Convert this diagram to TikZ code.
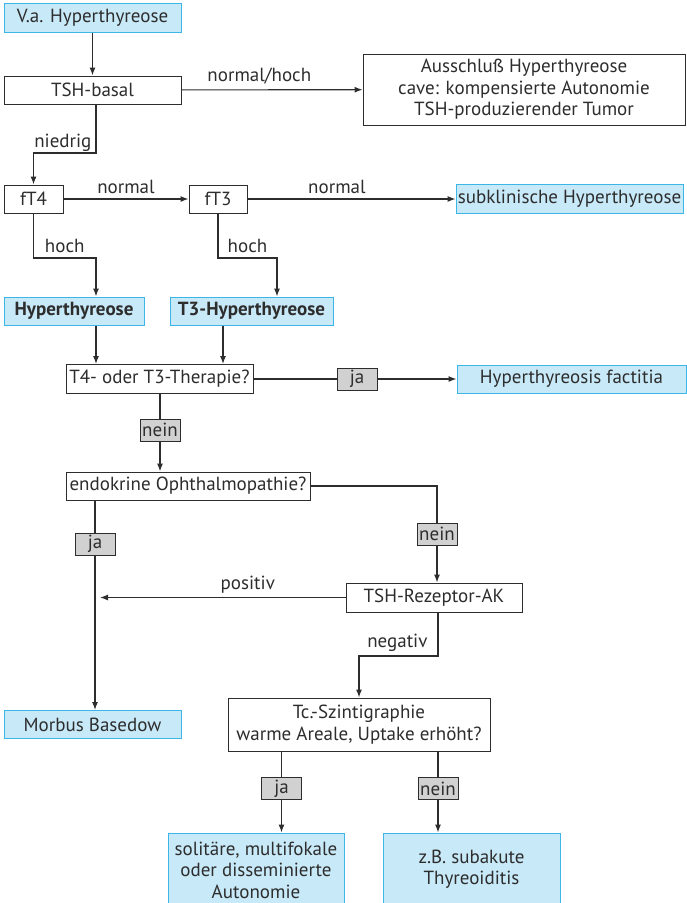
\documentclass[tikz,border=0pt]{standalone}
\usepackage{fontspec}
\setmainfont{PT Sans}
\usetikzlibrary{arrows.meta}
\definecolor{hellblau}{RGB}{200,233,248}
\definecolor{randblau}{RGB}{60,182,230}
\definecolor{strich}{RGB}{45,45,45}

\begin{document}
\begin{tikzpicture}[x=1pt,y=-1pt,
  font=\fontsize{19}{21.5}\selectfont,
  every node/.style={inner sep=0pt,align=center,text=strich},
  box/.style={draw=strich,line width=1pt,fill=white},
  endbox/.style={draw=randblau,line width=1pt,fill=hellblau},
  ans/.style={draw=strich,line width=0.9pt,fill=black!18,minimum width=40,minimum height=22},
  lin/.style={draw=strich,line width=1.1pt},
  arr/.style={lin,-{Latex[length=8pt,width=6pt]}}]
\useasboundingbox (0,0) rectangle (687,903);

\node[endbox,minimum width=177,minimum height=29] (va) at (92.5,17.5) {V.a. Hyperthyreose};
\node[box,minimum width=177,minimum height=28] (tsh) at (92.5,90) {TSH-basal};
\node[box,minimum width=322,minimum height=71] (aus) at (524,89.5)
  {Ausschlu\ss{} Hyperthyreose\\cave: kompensierte Autonomie\\TSH-produzierender Tumor};
\node[box,minimum width=59,minimum height=28] (ft4) at (33.5,199) {fT4};
\node[box,minimum width=58,minimum height=28] (ft3) at (218,199) {fT3};
\node[endbox,minimum width=227,minimum height=29] (subk) at (569.5,199) {subklinische Hyperthyreose};
\node[endbox,minimum width=140,minimum height=28,font=\fontsize{19}{21.5}\selectfont\bfseries] (hyp) at (74,311) {Hyperthyreose};
\node[endbox,minimum width=163,minimum height=28,font=\fontsize{19}{21.5}\selectfont\bfseries] (t3hyp) at (251.5,311) {T3-Hyperthyreose};
\node[box,minimum width=187,minimum height=29] (ther) at (159.5,379) {T4- oder T3-Therapie?};
\node[ans] (ja1) at (357,379) {ja};
\node[endbox,minimum width=229,minimum height=28] (fact) at (571.5,379) {Hyperthyreosis factitia};
\node[ans] (nein1) at (160,430) {nein};
\node[box,minimum width=244,minimum height=28] (endo) at (188,486) {endokrine Ophthalmopathie?};
\node[ans] (nein2) at (437,534) {nein};
\node[ans] (ja2) at (95,544) {ja};
\node[box,minimum width=176,minimum height=29] (rez) at (434,597.5) {TSH-Rezeptor-AK};
\node[endbox,minimum width=177,minimum height=28] (morbus) at (92.5,724.5) {Morbus Basedow};
\node[box,minimum width=262,minimum height=53] (tc) at (359,724.5)
  {Tc.-Szintigraphie\\warme Areale, Uptake erh\"oht?};
\node[ans] (ja3) at (281.5,788.5) {ja};
\node[ans] (nein3) at (438,788.5) {nein};
\node[endbox,minimum width=176,minimum height=74] (solit) at (256,870)
  {solit\"are, multifokale\\oder disseminierte\\Autonomie};
\node[endbox,minimum width=177,minimum height=72] (zb) at (471.5,869)
  {z.B. subakute\\Thyreoiditis};

\coordinate (b1) at (96,153);
\coordinate (h1) at (96,258);
\coordinate (h2) at (277,258);
\coordinate (c3) at (223,345);
\coordinate (n1) at (438,656);

\draw[arr] (va) -- (tsh);
\draw[arr] (tsh) -- node[above=5pt,pos=0.43] {normal/hoch} (aus);
\draw[arr] (tsh.south -| b1) -- node[left=4pt,pos=0.79] {niedrig} (b1) -| (ft4.north);
\draw[arr] (ft4) -- node[above=5pt] {normal} (ft3);
\draw[arr] (ft3) -- node[above=5pt,pos=0.43] {normal} (subk);
\draw[arr] (ft4.south) |- node[above=5pt,pos=0.75] {hoch} (h1) -- (h1 |- hyp.north);
\draw[arr] (ft3.south) |- node[above=5pt,pos=0.75] {hoch} (h2) -- (h2 |- t3hyp.north);
\draw[arr] (h1 |- hyp.south) -- (h1 |- ther.north);
\draw[arr] (c3 |- t3hyp.south) -- (c3 |- ther.north);
\draw[lin] (ther) -- (ja1);
\draw[arr] (ja1) -- (fact);
\draw[lin] (nein1 |- ther.south) -- (nein1.north);
\draw[arr] (nein1.south) -- (nein1 |- endo.north);
\draw[lin] (endo.east) -| (nein2.north);
\draw[arr] (nein2.south) -- (nein2 |- rez.north);
\draw[lin] (ja2 |- endo.south) -- (ja2.north);
\draw[arr] (ja2.south) -- (ja2 |- morbus.north);
\draw[arr,shorten >=5pt] (rez.west) -- node[above=4pt,pos=0.39] {positiv} (ja2 |- rez.west);
\draw[arr] (rez.south -| n1) -- node[left=10pt,pos=0.7] {negativ} (n1) -| (tc.north);
\draw[lin] (ja3 |- tc.south) -- (ja3.north);
\draw[arr] (ja3.south) -- (ja3 |- solit.north);
\draw[lin] (nein3 |- tc.south) -- (nein3.north);
\draw[arr] (nein3.south) -- (nein3 |- zb.north);
\end{tikzpicture}
\end{document}
